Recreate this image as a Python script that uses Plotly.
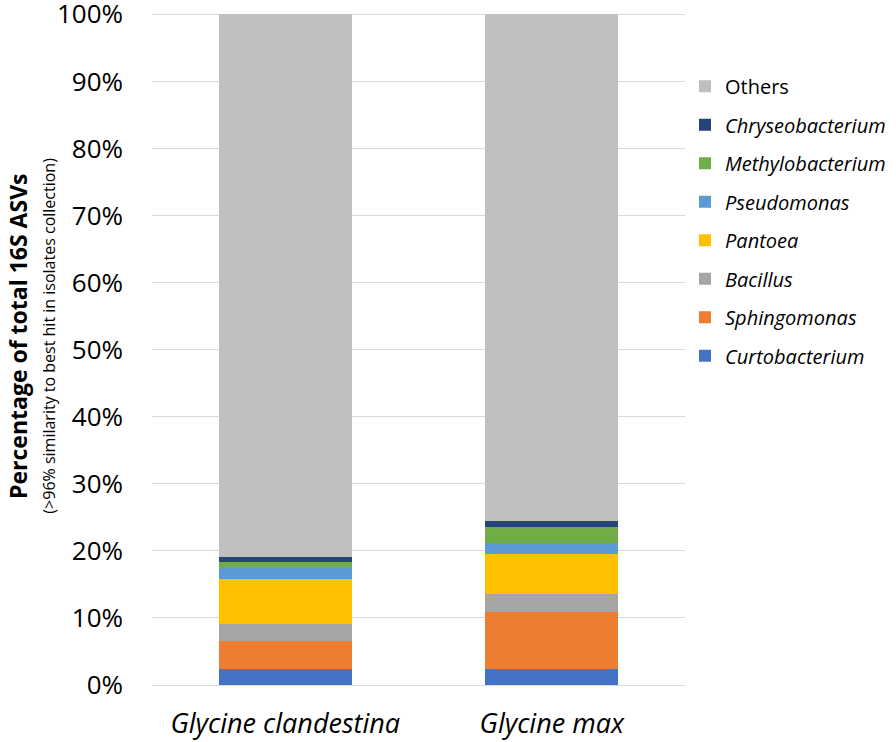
import plotly.graph_objects as go

categories = ["Glycine clandestina", "Glycine max"]
category_labels = ["<i>Glycine clandestina</i>", "<i>Glycine max</i>"]

series_names = ["Curtobacterium", "Sphingomonas", "Bacillus", "Pantoea",
                "Pseudomonas", "Methylobacterium", "Chryseobacterium", "Others"]
curtobacterium = [2.4, 2.4]
sphingomonas = [4.2, 8.5]
bacillus = [2.5, 2.6]
pantoea = [6.7, 6.0]
pseudomonas = [1.6, 1.6]
methylobacterium = [0.9, 2.5]
chryseobacterium = [0.8, 0.9]
others = [80.9, 75.5]

series_values = [curtobacterium, sphingomonas, bacillus, pantoea,
                 pseudomonas, methylobacterium, chryseobacterium, others]
colors = ["#4472C4", "#ED7D31", "#A5A5A5", "#FFC000",
          "#5B9BD5", "#70AD47", "#264478", "#BFBFBF"]

tick_vals = [0, 10, 20, 30, 40, 50, 60, 70, 80, 90, 100]
tick_text = [f"{v}%" for v in tick_vals]

fig = go.Figure()
n = len(series_names)
for i, (name, vals, col) in enumerate(zip(series_names, series_values, colors)):
    label = name if name == "Others" else f"<i>{name}</i>"
    fig.add_trace(go.Bar(
        x=categories, y=vals, name=label, marker=dict(color=col, line=dict(width=0)),
        legendgroup=name, legendrank=n - i,
    ))

fig.update_layout(
    barmode="stack",
    bargap=0.5,
    width=896, height=742,
    margin=dict(l=152, r=211, t=13, b=57, autoexpand=False),
    plot_bgcolor="white", paper_bgcolor="white",
    font=dict(family="Open Sans", color="#000000"),
    showlegend=True,
    legend=dict(
        x=1.0, xanchor="left", y=0.92, yanchor="top",
        traceorder="grouped", tracegroupgap=9.5,
        font=dict(size=20, color="#000000"),
        itemwidth=30,
    ),
    xaxis=dict(
        tickmode="array", tickvals=categories, ticktext=category_labels,
        tickfont=dict(size=27, color="#000000"), showline=True, linecolor="#D9D9D9",
        linewidth=1, ticks="", ticklabelstandoff=15,
    ),
    yaxis=dict(
        range=[0, 100.2], tickmode="array", tickvals=tick_vals, ticktext=tick_text,
        tickfont=dict(size=26, color="#000000"), showgrid=True, gridcolor="#D9D9D9",
        gridwidth=1, zeroline=False, ticks="", ticklabelstandoff=28,
        ticklabeloverflow="allow",
    ),
    annotations=[
        dict(text="<b>Percentage of total 16S ASVs</b>", textangle=-90,
             xref="paper", yref="paper", x=-0.2525, y=0.52, xanchor="center", yanchor="middle",
             showarrow=False, font=dict(size=23, color="#000000")),
        dict(text="(>96% similarity to best hit in isolates collection)", textangle=-90,
             xref="paper", yref="paper", x=-0.195, y=0.52, xanchor="center", yanchor="middle",
             showarrow=False, font=dict(size=16, color="#000000")),
    ],
)

fig.write_html("out.html", config={"displayModeBar": False},
               post_script="document.body.style.margin='0';document.body.style.padding='0';")
